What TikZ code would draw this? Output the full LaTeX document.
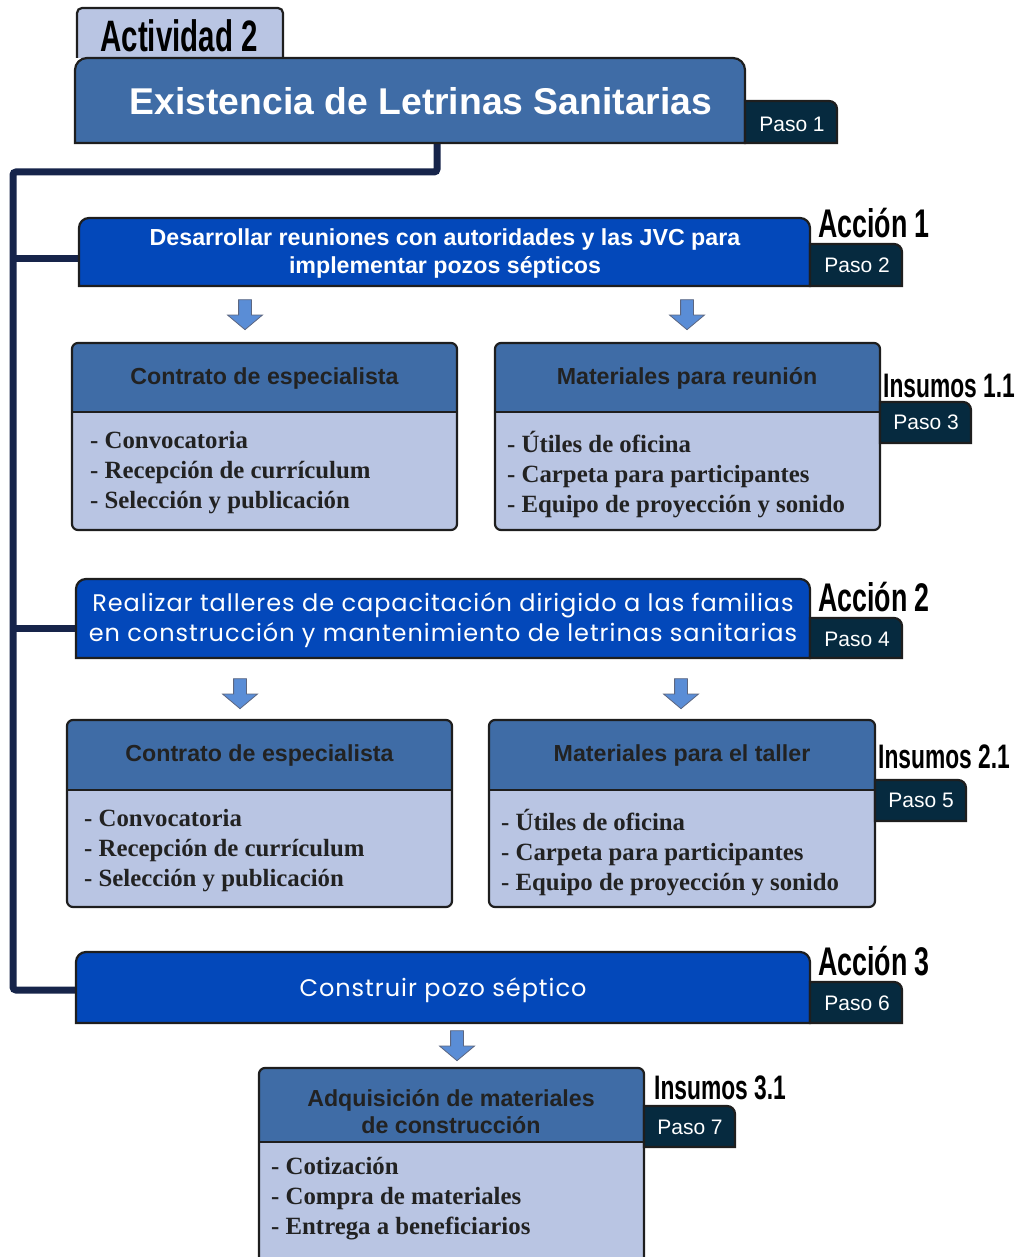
\documentclass[tikz,border=0pt]{standalone}
\usepackage{fontspec}
\setmainfont{Liberation Serif}
\newfontfamily\sansf{Liberation Sans}
\newfontfamily\narrowf[FakeStretch=0.67]{Liberation Sans Bold}
\newfontfamily\geof[LetterSpace=4]{Poppins}
\usetikzlibrary{shapes.arrows}

\definecolor{steel}{HTML}{3F6CA6}
\definecolor{lav}{HTML}{B9C5E3}
\definecolor{bright}{HTML}{0348BA}
\definecolor{navy}{HTML}{062A3F}
\definecolor{connc}{HTML}{16244A}
\definecolor{edgec}{HTML}{1E1E1E}
\definecolor{arrowc}{HTML}{5A8DD6}
\definecolor{txtc}{HTML}{222222}

% box with dark header and light list part
\newcommand{\listbox}[6]{%
  \fill[lav, rounded corners=6pt] (#2,#3) rectangle (#4,#5);
  \fill[steel] (#2,#6) -- (#2,#3+20) [rounded corners=6pt] -- (#2,#3) -- (#4,#3) -- (#4,#3+20) [sharp corners] -- (#4,#6) -- cycle;
  \draw[outl] (#2,#6) -- (#4,#6);
  \draw[outl, rounded corners=6pt] (#2,#3) rectangle (#4,#5);
  \coordinate (#1) at ($(#2,#3)!.5!(#4,#3)$);
}

\usetikzlibrary{calc}

\begin{document}
\begin{tikzpicture}[x=1pt,y=-1pt,
    outl/.style={draw=edgec, line width=2.2pt},
    conn/.style={draw=connc, line width=7pt},
    pasotxt/.style={text=white, inner sep=0, font=\sansf\fontsize{21}{24}\selectfont},
    condtxt/.style={anchor=west, inner sep=0, text=black},
    headtxt/.style={text=txtc, inner sep=0, align=center, font=\sansf\bfseries\fontsize{23.2}{27}\selectfont},
    itemtxt/.style={text=txtc, inner sep=0, anchor=west, align=left, font=\bfseries\fontsize{24.8}{30}\selectfont},
    bluearrow/.style={single arrow, rotate=-90, fill=arrowc, draw=connc!70, line width=0.8pt,
      minimum height=30pt, inner xsep=0pt, inner ysep=6pt, single arrow head extend=11pt,
      single arrow tip angle=100},
  ]
  \useasboundingbox (0,0) rectangle (1016,1257);

  % connector
  \coordinate (titb) at (437,143);
  \coordinate (bus) at (13,172);
  \coordinate (a1w) at (80,258);
  \coordinate (a2w) at (78,628);
  \coordinate (a3w) at (78,990);
  \draw[conn, rounded corners=3pt] (titb) |- (bus) -- (bus |- a3w) -- (a3w);
  \draw[conn] (bus |- a1w) -- (a1w);
  \draw[conn] (bus |- a2w) -- (a2w);

  % actividad
  \draw[outl, fill=lav] (77,58) -- (77,30) [rounded corners=5pt] -- (77,8) -- (283,8) -- (283,30) [sharp corners] -- (283,58);
  \node[condtxt, anchor=center, font=\narrowf\fontsize{44}{46}\selectfont] (act) at (179,36) {Actividad 2};
  \draw[outl, fill=steel] (75,143) -- (75,100) [rounded corners=12pt] -- (75,58) -- (745,58) -- (745,100) [sharp corners] -- (745,143) -- cycle;
  \node[text=white, inner sep=0, font=\sansf\bfseries\fontsize{37.3}{40}\selectfont] (tit) at (421,101) {Existencia de Letrinas Sanitarias};
  \draw[outl, fill=navy] (745,143) -- (745,101) -- (790,101) [rounded corners=8pt] -- (837,101) -- (837,122) [sharp corners] -- (837,143) -- cycle;
  \node[pasotxt] (p1) at (792,124) {Paso 1};

  % accion 1
  \draw[outl, fill=bright] (79,286) -- (79,250) [rounded corners=10pt] -- (79,218) -- (810,218) -- (810,250) [sharp corners] -- (810,286) -- cycle;
  \node[text=white, inner sep=0, align=center, font=\sansf\bfseries\fontsize{23.2}{28}\selectfont] (a1) at (445,254)
    {Desarrollar reuniones con autoridades y las JVC para\\implementar pozos sépticos};
  \draw[outl, fill=navy] (810,286) -- (810,244) -- (850,244) [rounded corners=8pt] -- (902,244) -- (902,265) [sharp corners] -- (902,286) -- cycle;
  \node[pasotxt] (p2) at (857,265) {Paso 2};
  \node[condtxt, font=\narrowf\fontsize{40}{42}\selectfont] (ac1) at (818,223) {Acción 1};

  \node[bluearrow] (f11) at (245,312) {};
  \node[bluearrow] (f12) at (687,312) {};

  \listbox{c11}{72}{343}{457}{530}{412}
  \node[headtxt] (h11) at (264.5,378) {Contrato de especialista};
  \node[itemtxt] (l11) at (90,473) {- Convocatoria\\- Recepción de currículum\\- Selección y publicación};
  \listbox{m11}{495}{343}{880}{530}{412}
  \node[headtxt] (h12) at (687,378) {Materiales para reunión};
  \node[itemtxt] (l12) at (507,475) {- Útiles de oficina\\- Carpeta para participantes\\- Equipo de proyección y sonido};
  \node[condtxt, font=\narrowf\fontsize{34}{36}\selectfont] (in1) at (883,386) {Insumos 1.1};
  \draw[outl, fill=navy] (880,443) -- (880,402) -- (920,402) [rounded corners=8pt] -- (971,402) -- (971,420) [sharp corners] -- (971,443) -- cycle;
  \node[pasotxt] (p3) at (926,422) {Paso 3};

  % accion 2
  \draw[outl, fill=bright] (76,658) -- (76,620) [rounded corners=10pt] -- (76,579) -- (810,579) -- (810,620) [sharp corners] -- (810,658) -- cycle;
  \node[text=white, inner sep=0, align=center, font=\geof\fontsize{24}{30}\selectfont] (a2) at (443,620)
    {Realizar talleres de capacitación dirigido a las familias\\en construcción y mantenimiento de letrinas sanitarias};
  \draw[outl, fill=navy] (810,658) -- (810,618) -- (850,618) [rounded corners=8pt] -- (902,618) -- (902,640) [sharp corners] -- (902,658) -- cycle;
  \node[pasotxt] (p4) at (857,639) {Paso 4};
  \node[condtxt, font=\narrowf\fontsize{40}{42}\selectfont] (ac2) at (818,597) {Acción 2};

  \node[bluearrow] (f21) at (240,691) {};
  \node[bluearrow] (f22) at (681,691) {};

  \listbox{c21}{67}{720}{452}{907}{790}
  \node[headtxt] (h21) at (259.5,755) {Contrato de especialista};
  \node[itemtxt] (l21) at (84,851) {- Convocatoria\\- Recepción de currículum\\- Selección y publicación};
  \listbox{m21}{489}{720}{875}{907}{790}
  \node[headtxt] (h22) at (682,755) {Materiales para el taller};
  \node[itemtxt] (l22) at (501,853) {- Útiles de oficina\\- Carpeta para participantes\\- Equipo de proyección y sonido};
  \node[condtxt, font=\narrowf\fontsize{34}{36}\selectfont] (in2) at (878,757) {Insumos 2.1};
  \draw[outl, fill=navy] (875,821) -- (875,780) -- (915,780) [rounded corners=8pt] -- (966,780) -- (966,800) [sharp corners] -- (966,821) -- cycle;
  \node[pasotxt] (p5) at (921,800) {Paso 5};

  % accion 3
  \draw[outl, fill=bright] (76,1023) -- (76,990) [rounded corners=10pt] -- (76,952) -- (810,952) -- (810,990) [sharp corners] -- (810,1023) -- cycle;
  \node[text=white, inner sep=0, font=\geof\fontsize{24}{30}\selectfont] (a3) at (443,990) {Construir pozo séptico};
  \draw[outl, fill=navy] (810,1023) -- (810,982) -- (850,982) [rounded corners=8pt] -- (902,982) -- (902,1002) [sharp corners] -- (902,1023) -- cycle;
  \node[pasotxt] (p6) at (857,1003) {Paso 6};
  \node[condtxt, font=\narrowf\fontsize{40}{42}\selectfont] (ac3) at (818,961) {Acción 3};

  \node[bluearrow] (f31) at (457,1043) {};

  \listbox{q31}{259}{1068}{644}{1275}{1142}
  \node[headtxt] (h31) at (451,1112) {Adquisición de materiales\\de construcción};
  \node[itemtxt] (l31) at (271,1199) {- Cotización\\- Compra de materiales\\- Entrega a beneficiarios};
  \node[condtxt, font=\narrowf\fontsize{34}{36}\selectfont] (in3) at (654,1088) {Insumos 3.1};
  \draw[outl, fill=navy] (644,1147) -- (644,1106) -- (685,1106) [rounded corners=8pt] -- (735,1106) -- (735,1126) [sharp corners] -- (735,1147) -- cycle;
  \node[pasotxt] (p7) at (690,1127) {Paso 7};
\end{tikzpicture}
\end{document}
